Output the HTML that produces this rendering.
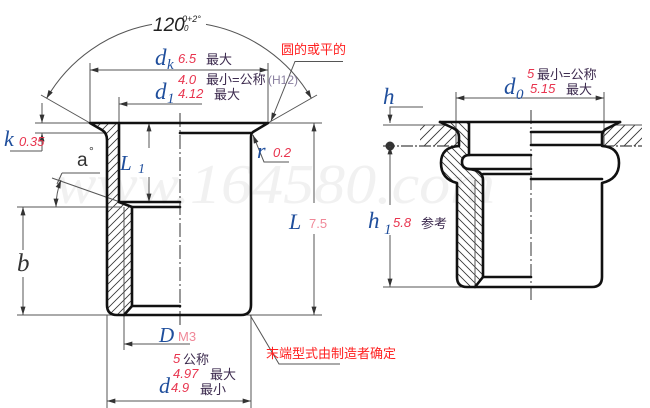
<!DOCTYPE html>
<html><head><meta charset="utf-8"><style>
html,body{margin:0;padding:0;background:#fff;}
svg{display:block;}
.t{stroke:#555;stroke-width:1;fill:none;}
.k{stroke:#111;stroke-width:2.6;fill:none;stroke-linejoin:round;stroke-linecap:round;}
.c{stroke:#333;stroke-width:1;fill:none;stroke-dasharray:14,3,2,3;}
.v{font-family:"Liberation Serif",serif;font-style:italic;fill:#1f4e9c;}
.n{font-family:"Liberation Sans",sans-serif;font-style:italic;fill:#e8344e;font-size:13px;}
.z{font-family:"Liberation Sans","Noto Sans CJK SC",sans-serif;fill:#3c2a4e;font-size:13px;}
.p{font-family:"Liberation Sans",sans-serif;fill:#f08898;font-size:13px;}
.r{font-family:"Liberation Sans","Noto Sans CJK SC",sans-serif;fill:#ff2020;font-size:13px;}
</style></head><body>
<svg width="650" height="408" viewBox="0 0 650 408" xmlns="http://www.w3.org/2000/svg">
<defs>
<marker id="a" viewBox="0 0 10 6" refX="10" refY="3" markerWidth="9" markerHeight="5" markerUnits="userSpaceOnUse" orient="auto-start-reverse"><path d="M0,0 L10,3 L0,6 z" fill="#333"/></marker>
<pattern id="hl" patternUnits="userSpaceOnUse" width="8" height="8"><path d="M-2,2 L2,-2 M0,8 L8,0 M6,10 L10,6" stroke="#333" stroke-width="0.8"/></pattern>
<pattern id="hr" patternUnits="userSpaceOnUse" width="8" height="8"><path d="M-2,6 L2,10 M0,0 L8,8 M6,-2 L10,2" stroke="#333" stroke-width="0.8"/></pattern>
<pattern id="hp" patternUnits="userSpaceOnUse" width="10" height="10"><path d="M-2,2 L2,-2 M0,10 L10,0 M8,12 L12,8" stroke="#333" stroke-width="0.9"/></pattern>
</defs>

<!-- watermark -->
<text x="55" y="203" font-family="Liberation Serif, serif" font-style="italic" font-size="56" fill="#f1f1f1" textLength="440" lengthAdjust="spacingAndGlyphs">www.164580.com</text>

<!-- ================= LEFT DRAWING ================= -->
<!-- hatch -->
<path d="M90,123 L119,123 L119,202 L132,207 L132,306 L124,315 L117,315 Q107,315 107,305 L107,140 Q107,133 102,130 Z" fill="url(#hl)"/>

<!-- thin reference lines -->
<line class="t" x1="35" y1="123" x2="322" y2="123"/>
<line class="t" x1="35" y1="133" x2="107" y2="133"/>
<line class="t" x1="17" y1="207" x2="122" y2="207"/>
<line class="t" x1="17" y1="315" x2="322" y2="315"/>
<!-- k -->
<line class="t" x1="42" y1="103" x2="42" y2="123" marker-end="url(#a)"/>
<line class="t" x1="42" y1="133" x2="42" y2="151" marker-start="url(#a)"/>
<line class="t" x1="10" y1="151" x2="42" y2="151"/>
<!-- dk -->
<line class="t" x1="90" y1="63" x2="90" y2="123"/>
<line class="t" x1="268" y1="63" x2="268" y2="123"/>
<line class="t" x1="90" y1="70" x2="268" y2="70" marker-start="url(#a)" marker-end="url(#a)"/>
<!-- d1 -->
<line class="t" x1="119" y1="97" x2="119" y2="123"/>
<line class="t" x1="119" y1="104" x2="202" y2="104" marker-start="url(#a)"/>
<!-- 120 deg -->
<line class="t" x1="90" y1="123" x2="41" y2="95"/>
<line class="t" x1="268" y1="123" x2="317" y2="95"/>
<path class="t" d="M46.5,98.5 A153,153 0 0,1 152,24.4" marker-start="url(#a)"/>
<path class="t" d="M206,24.4 A153,153 0 0,1 311.5,98.5" marker-end="url(#a)"/>
<!-- L1 -->
<line class="t" x1="149" y1="123" x2="149" y2="148" marker-start="url(#a)"/>
<line class="t" x1="149" y1="177" x2="149" y2="202" marker-end="url(#a)"/>
<!-- a deg -->
<line class="t" x1="52" y1="178" x2="120" y2="202"/>
<path class="t" d="M61,180 A76,76 0 0,0 56,207" marker-start="url(#a)" marker-end="url(#a)"/>
<line class="t" x1="62" y1="173" x2="100" y2="173"/>
<line class="t" x1="62" y1="173" x2="57" y2="184"/>
<!-- b -->
<line class="t" x1="23" y1="207" x2="23" y2="250" marker-start="url(#a)"/>
<line class="t" x1="23" y1="277" x2="23" y2="315" marker-end="url(#a)"/>
<!-- L -->
<line class="t" x1="314" y1="123" x2="314" y2="203" marker-start="url(#a)"/>
<line class="t" x1="314" y1="234" x2="314" y2="315" marker-end="url(#a)"/>
<!-- r leader -->
<polyline class="t" points="253,135 264,162 289,162" marker-start="url(#a)"/>
<!-- round/flat leader -->
<polyline class="t" points="343,61.5 295,61.5 271,121" marker-end="url(#a)"/>
<!-- D -->
<line class="t" x1="124" y1="207" x2="124" y2="350"/>
<line class="t" x1="124" y1="344" x2="190" y2="344" marker-start="url(#a)"/>
<!-- d -->
<line class="t" x1="107" y1="315" x2="107" y2="408"/>
<line class="t" x1="251" y1="315" x2="251" y2="408"/>
<line class="t" x1="107" y1="401" x2="251" y2="401" marker-start="url(#a)" marker-end="url(#a)"/>
<!-- end note leader -->
<polyline class="t" points="250,315 279,364 340,364"/>
<!-- centerline -->
<line class="c" x1="180" y1="113" x2="180" y2="326"/>

<!-- thick outline -->
<path class="k" d="M90,123 L268,123 L253,132 Q251,133.5 251,137 L251,305 Q251,315 241,315 L117,315 Q107,315 107,305 L107,140 Q107,133 102,130 Z"/>
<path class="k" d="M119,123 L119,202 L180,202"/>
<path class="k" d="M119,202 L132,207 L180,207"/>
<path class="k" d="M132,207 L132,306 L180,306"/>
<path class="k" d="M132,306 L124,315"/>
<path class="k" d="M180,133 L251,133"/>

<!-- left texts -->
<text x="153" y="31" font-family="Liberation Sans, sans-serif" font-style="italic" font-size="19" fill="#222">120</text>
<text x="182" y="22" font-family="Liberation Sans, sans-serif" font-style="italic" font-size="9" fill="#222">0+2°</text>
<text x="184" y="31" font-family="Liberation Sans, sans-serif" font-style="italic" font-size="8" fill="#222">0</text>

<text x="155" y="65" class="v" font-size="23">d</text>
<text x="167" y="69" class="v" font-size="15">k</text>
<text x="178" y="63" class="n">6.5</text>
<text x="206" y="64" class="z">最大</text>
<text x="178" y="84" class="n">4.0</text>
<text x="206" y="84" class="z">最小=公称</text>
<text x="268" y="84" font-family="Liberation Sans, sans-serif" font-size="12" fill="#8a80a0">(H12)</text>
<text x="155" y="99" class="v" font-size="23">d</text>
<text x="167" y="103" class="v" font-size="15">1</text>
<text x="178" y="98" class="n">4.12</text>
<text x="214" y="99" class="z">最大</text>

<text x="4" y="146" class="v" font-size="22">k</text>
<text x="19" y="146" class="n">0.35</text>

<text x="77" y="166" font-family="Liberation Sans, sans-serif" font-size="19" fill="#333">a</text>
<text x="89" y="155" font-family="Liberation Sans, sans-serif" font-size="12" fill="#333">°</text>

<text x="120" y="170" class="v" font-size="21">L</text>
<text x="138" y="173" class="v" font-size="14">1</text>

<text x="257" y="158" class="v" font-size="22">r</text>
<text x="273" y="157" class="n">0.2</text>

<text x="289" y="229" class="v" font-size="22">L</text>
<text x="309" y="228" class="p">7.5</text>

<text x="17" y="271" font-family="Liberation Serif, serif" font-style="italic" font-size="25" fill="#333">b</text>

<text x="159" y="342" class="v" font-size="21">D</text>
<text x="178" y="341" class="p">M3</text>

<text x="173" y="363" class="n">5</text>
<text x="183" y="364" class="z">公称</text>
<text x="173" y="378" class="n">4.97</text>
<text x="210" y="379" class="z">最大</text>
<text x="159" y="393" class="v" font-size="22">d</text>
<text x="171" y="392" class="n">4.9</text>
<text x="200" y="394" class="z">最小</text>

<text x="281" y="54" class="r" font-size="13">圆的或平的</text>
<text x="266" y="358" class="r" font-size="13">末端型式由制造者确定</text>

<!-- ================= RIGHT DRAWING ================= -->
<!-- plate hatch -->
<path d="M420,125 L446.5,125 L455,130 L459,146 L420,146 Z" fill="url(#hp)"/>
<path d="M613.5,125 L642,125 L642,146 L602,146 L602,134 Q603,131 606,129 Z" fill="url(#hp)"/>
<!-- rivet section hatch -->
<path d="M440,122 L469,122 L469,155 Q462,155 462,162 Q462,169 468,169 Q483,170 483,180 L483,277 L475,287 L467,287 Q457,287 457,277 L457,183 Q441,179 441,163 Q441,147 459,146 L459,137 Q459,131 453,128 Z" fill="url(#hr)"/>

<!-- plate lines -->
<line class="t" x1="383" y1="125" x2="447" y2="125"/>
<line class="t" x1="613" y1="125" x2="642" y2="125"/>
<line x1="383" y1="146" x2="459" y2="146" stroke="#444" stroke-width="1.2" stroke-dasharray="12,2,2,2"/>
<line x1="602" y1="146" x2="642" y2="146" stroke="#444" stroke-width="1.2" stroke-dasharray="12,2,2,2"/>
<circle cx="390" cy="146" r="4.5" fill="#333"/>

<!-- h -->
<polyline class="t" points="423,107 390,107 390,123" marker-end="url(#a)"/>
<line class="t" x1="390" y1="146" x2="390" y2="205" marker-start="url(#a)"/>
<line class="t" x1="390" y1="235" x2="390" y2="287" marker-end="url(#a)"/>
<line class="t" x1="383" y1="287" x2="470" y2="287"/>
<!-- d0 -->
<line class="t" x1="456" y1="92" x2="456" y2="145"/>
<line class="t" x1="604" y1="92" x2="604" y2="145"/>
<line class="t" x1="456" y1="98" x2="604" y2="98" marker-start="url(#a)" marker-end="url(#a)"/>
<!-- thin inner line -->
<line class="t" x1="475" y1="180" x2="475" y2="287"/>
<!-- centerline -->
<line class="c" x1="531" y1="110" x2="531" y2="300"/>

<!-- thick rivet outline -->
<path class="k" d="M440,122 L620,122"/>
<path class="k" d="M440,122 L453,128 Q459,131 459,137 L459,146 Q441,147 441,163 Q441,179 457,183 L457,277 Q457,287 467,287 L592,287 Q602,287 602,277 L602,183 Q619,179 619,163 Q619,147 602,146 L602,134 Q603,131 606,129 L620,122"/>
<path class="k" d="M469,123 L469,155"/>
<path class="k" d="M531,155 L470,155 Q462,155 462,162 Q462,169 470,169 L531,169"/>
<path class="k" d="M468,169 Q483,170 483,180 L483,277 L531,277"/>
<path class="k" d="M483,277 L475,287"/>
<path class="k" d="M483,174 L531,174"/>
<path class="k" d="M531,179 L602,179"/>
<path class="k" d="M531,132 L602,132"/>
<path class="k" d="M531,145 L602,145"/>

<!-- right texts -->
<text x="527" y="78" class="n">5</text>
<text x="537" y="79" class="z">最小=公称</text>
<text x="504" y="94" class="v" font-size="23">d</text>
<text x="516" y="99" class="v" font-size="15">0</text>
<text x="530" y="93" class="n">5.15</text>
<text x="566" y="94" class="z">最大</text>

<text x="383" y="104" class="v" font-size="23">h</text>
<text x="368" y="228" class="v" font-size="23">h</text>
<text x="384" y="234" class="v" font-size="15">1</text>
<text x="393" y="227" class="n">5.8</text>
<text x="421" y="228" class="z" fill="#5a4a72">参考</text>
</svg>
</body></html>
